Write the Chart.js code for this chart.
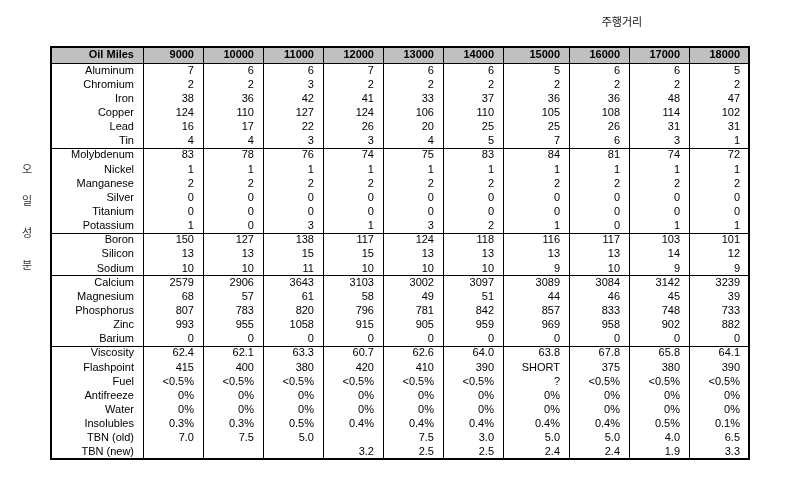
<!DOCTYPE html>
<html>
<head>
<meta charset="utf-8">
<script src="https://cdn.jsdelivr.net/npm/chart.js@4/dist/chart.umd.min.js"></script>
<style>
  body { margin: 0; background: #fff; }
  #wrap { width: 800px; height: 500px; }
</style>
</head>
<body>
<div id="wrap"><canvas id="myChart" width="800" height="500"></canvas></div>
<script>
/* table data */
const headerLabel = 'Oil Miles';
const miles = ['9000', '10000', '11000', '12000', '13000', '14000', '15000', '16000', '17000', '18000'];
const topTitle = '주행거리';
const sideTitle = ['오', '일', '성', '분'];

const wearNames = ['Aluminum', 'Chromium', 'Iron', 'Copper', 'Lead', 'Tin'];
const wearValues = [
  [7, 6, 6, 7, 6, 6, 5, 6, 6, 5],
  [2, 2, 3, 2, 2, 2, 2, 2, 2, 2],
  [38, 36, 42, 41, 33, 37, 36, 36, 48, 47],
  [124, 110, 127, 124, 106, 110, 105, 108, 114, 102],
  [16, 17, 22, 26, 20, 25, 25, 26, 31, 31],
  [4, 4, 3, 3, 4, 5, 7, 6, 3, 1],
];
const traceNames = ['Molybdenum', 'Nickel', 'Manganese', 'Silver', 'Titanium', 'Potassium'];
const traceValues = [
  [83, 78, 76, 74, 75, 83, 84, 81, 74, 72],
  [1, 1, 1, 1, 1, 1, 1, 1, 1, 1],
  [2, 2, 2, 2, 2, 2, 2, 2, 2, 2],
  [0, 0, 0, 0, 0, 0, 0, 0, 0, 0],
  [0, 0, 0, 0, 0, 0, 0, 0, 0, 0],
  [1, 0, 3, 1, 3, 2, 1, 0, 1, 1],
];
const contamNames = ['Boron', 'Silicon', 'Sodium'];
const contamValues = [
  [150, 127, 138, 117, 124, 118, 116, 117, 103, 101],
  [13, 13, 15, 15, 13, 13, 13, 13, 14, 12],
  [10, 10, 11, 10, 10, 10, 9, 10, 9, 9],
];
const additiveNames = ['Calcium', 'Magnesium', 'Phosphorus', 'Zinc', 'Barium'];
const additiveValues = [
  [2579, 2906, 3643, 3103, 3002, 3097, 3089, 3084, 3142, 3239],
  [68, 57, 61, 58, 49, 51, 44, 46, 45, 39],
  [807, 783, 820, 796, 781, 842, 857, 833, 748, 733],
  [993, 955, 1058, 915, 905, 959, 969, 958, 902, 882],
  [0, 0, 0, 0, 0, 0, 0, 0, 0, 0],
];
const propNames = ['Viscosity', 'Flashpoint', 'Fuel', 'Antifreeze', 'Water', 'Insolubles', 'TBN (old)', 'TBN (new)'];
const propValues = [
  ['62.4', '62.1', '63.3', '60.7', '62.6', '64.0', '63.8', '67.8', '65.8', '64.1'],
  ['415', '400', '380', '420', '410', '390', 'SHORT', '375', '380', '390'],
  ['<0.5%', '<0.5%', '<0.5%', '<0.5%', '<0.5%', '<0.5%', '?', '<0.5%', '<0.5%', '<0.5%'],
  ['0%', '0%', '0%', '0%', '0%', '0%', '0%', '0%', '0%', '0%'],
  ['0%', '0%', '0%', '0%', '0%', '0%', '0%', '0%', '0%', '0%'],
  ['0.3%', '0.3%', '0.5%', '0.4%', '0.4%', '0.4%', '0.4%', '0.4%', '0.5%', '0.1%'],
  ['7.0', '7.5', '5.0', '', '7.5', '3.0', '5.0', '5.0', '4.0', '6.5'],
  ['', '', '', '3.2', '2.5', '2.5', '2.4', '2.4', '1.9', '3.3'],
];

/* layout (column widths in units, label column is wider, 15000 too) */
const colWidths = [1.533, 1, 1, 1, 1, 1, 1, 1.1, 1, 1, 1];
const colEdges = [0];
colWidths.forEach((w) => colEdges.push(colEdges[colEdges.length - 1] + w));
const totalWidth = colEdges[colEdges.length - 1];
const headerTop = -0.63; // header row is a bit taller
const headerMid = -0.07;

const groups = [
  [wearNames, wearValues],
  [traceNames, traceValues],
  [contamNames, contamValues],
  [additiveNames, additiveValues],
  [propNames, propValues],
];

/* build cells: x = right edge of column, y = row index */
const cells = [];
const groupBreaks = [];
cells.push({ x: colEdges[1], y: headerMid, t: headerLabel, bold: true });
miles.forEach((m, c) => cells.push({ x: colEdges[c + 2], y: headerMid, t: m, bold: true }));
let row = 1;
groups.forEach(([names, values], g) => {
  names.forEach((name, i) => {
    cells.push({ x: colEdges[1], y: row, t: name });
    values[i].forEach((v, c) => cells.push({ x: colEdges[c + 2], y: row, t: String(v) }));
    row++;
  });
  if (g < groups.length - 1) groupBreaks.push(row - 0.5);
});
const rowCount = row;

const FONT = '"Liberation Sans", Arial, sans-serif';

const tablePlugin = {
  id: 'tablePlugin',
  beforeDatasetsDraw(chart) {
    const { ctx, chartArea, scales } = chart;
    const yHead = scales.y.getPixelForValue(0.5);
    ctx.save();
    ctx.fillStyle = '#c0c0c0';
    ctx.fillRect(chartArea.left, chartArea.top, chartArea.right - chartArea.left, yHead - chartArea.top);
    ctx.restore();
  },
  afterDatasetsDraw(chart) {
    const { ctx, chartArea, scales } = chart;
    const x = scales.x;
    const y = scales.y;
    ctx.save();
    ctx.strokeStyle = '#000';

    /* inner lines */
    ctx.lineWidth = 1;
    ctx.beginPath();
    for (let i = 1; i < colEdges.length - 1; i++) {
      const px = Math.round(x.getPixelForValue(colEdges[i])) + 0.5;
      ctx.moveTo(px, chartArea.top);
      ctx.lineTo(px, chartArea.bottom);
    }
    [0.5].concat(groupBreaks).forEach((v) => {
      const py = Math.round(y.getPixelForValue(v)) + 0.5;
      ctx.moveTo(chartArea.left, py);
      ctx.lineTo(chartArea.right, py);
    });
    ctx.stroke();

    /* outer border */
    ctx.lineWidth = 2;
    ctx.strokeRect(chartArea.left, chartArea.top, chartArea.right - chartArea.left, chartArea.bottom - chartArea.top);

    /* cell texts */
    const meta = chart.getDatasetMeta(0);
    ctx.fillStyle = '#000';
    ctx.textAlign = 'right';
    ctx.textBaseline = 'middle';
    meta.data.forEach((pt, i) => {
      const cell = chart.data.datasets[0].data[i];
      ctx.font = (cell.bold ? 'bold ' : '') + '11px ' + FONT;
      ctx.fillText(cell.t, pt.x - 9, pt.y + 0.5);
    });

    /* titles */
    ctx.textAlign = 'center';
    ctx.font = '11px "Noto Sans CJK KR", sans-serif';
    ctx.fillStyle = '#111';
    ctx.fillText(topTitle, x.getPixelForValue(colEdges[8]) + 53, chartArea.top - 25);
    ctx.fillStyle = '#333';
    sideTitle.forEach((ch, i) => {
      ctx.fillText(ch, chartArea.left - 24, y.getPixelForValue(8 + i * 2.25));
    });
    ctx.restore();
  },
};

const chart = new Chart(document.getElementById('myChart'), {
  type: 'scatter',
  data: {
    datasets: [
      {
        data: cells,
        pointRadius: 0,
        pointHoverRadius: 0,
      },
    ],
  },
  options: {
    responsive: false,
    animation: false,
    events: [],
    layout: { padding: { left: 51, right: 51, top: 47, bottom: 41 } },
    plugins: { legend: { display: false }, tooltip: { enabled: false } },
    scales: {
      x: { type: 'linear', display: false, min: 0, max: totalWidth },
      y: { type: 'linear', display: false, reverse: true, min: headerTop, max: rowCount - 0.5 },
    },
  },
  plugins: [tablePlugin],
});
</script>
</body>
</html>
